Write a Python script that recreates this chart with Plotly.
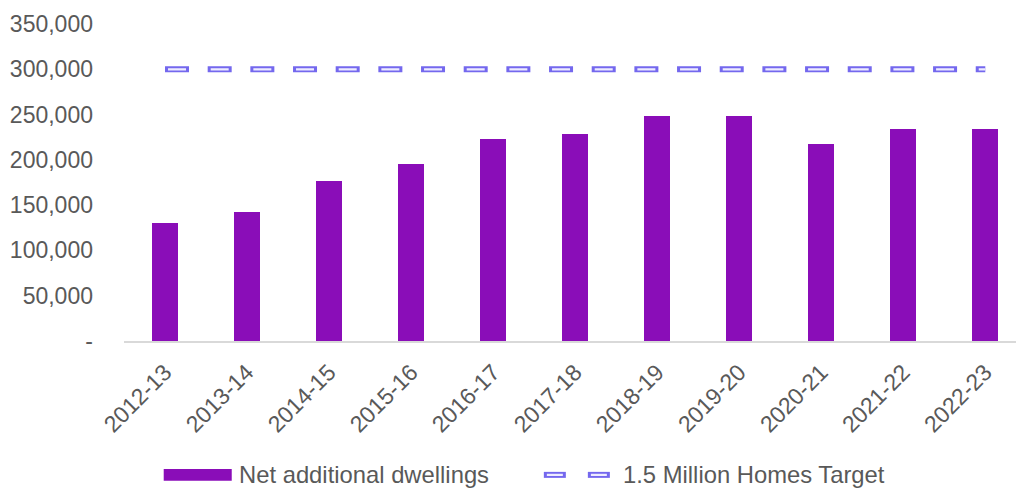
import plotly.graph_objects as go

# Financial years and net additional dwellings in England
years = ["2012-13", "2013-14", "2014-15", "2015-16", "2016-17", "2017-18",
         "2018-19", "2019-20", "2020-21", "2021-22", "2022-23"]
net_additional = [130500, 142600, 176500, 195600, 223200, 228300,
                  248200, 248900, 218000, 234200, 234200]
# Annual rate implied by the 1.5 million homes target
target_per_year = [300000] * len(years)

y_tickvals = [0, 50000, 100000, 150000, 200000, 250000, 300000, 350000]
y_ticktext = ["-", "50,000", "100,000", "150,000", "200,000", "250,000",
              "300,000", "350,000"]

bar_name = "Net additional dwellings"
line_name = "1.5 Million Homes Target"

W, H = 1016, 489
ML, MR, MT, MB = 124.3, 0, 23.7, 148
PW, PH = W - ML - MR, H - MT - MB
CAT_W = 82.0  # pixels per category

BAR_COLOR = "#8A0DB8"
LINE_COLOR = "#7468EE"
CORE_COLOR = "#EEECFF"
TEXT_COLOR = "#595959"
FONT = "Liberation Sans, Arial, sans-serif"


def px_x(px):
    return (px - ML) / PW


def px_y(py):
    return (H - MB - py) / PH


fig = go.Figure()

fig.add_trace(go.Bar(
    x=years, y=net_additional, name=bar_name,
    marker=dict(color=BAR_COLOR, line=dict(width=0)),
    width=26 / CAT_W, showlegend=False,
))

# Hollow dashed target line: coloured outer stroke with a thin light core
fig.add_trace(go.Scatter(
    x=years, y=target_per_year, name=line_name, mode="lines",
    line=dict(color=LINE_COLOR, width=6, dash="24px,18.67px"),
    showlegend=False, hoverinfo="skip",
))
fig.add_trace(go.Scatter(
    x=years, y=target_per_year, name=line_name, mode="lines",
    line=dict(color=CORE_COLOR, width=2.2, dash="0px,3px,18px,21.67px"),
    showlegend=False,
))

# Legend drawn below the axis
shapes = []
annotations = []
leg_y = 475
shapes.append(dict(type="rect", xref="paper", yref="paper",
                   x0=px_x(164), x1=px_x(232), y0=px_y(481), y1=px_y(469),
                   fillcolor=BAR_COLOR, line=dict(width=0)))
annotations.append(dict(xref="paper", yref="paper", x=px_x(237), y=px_y(leg_y),
                        text=bar_name, showarrow=False, xanchor="left",
                        yanchor="middle",
                        font=dict(family=FONT, size=23.8, color=TEXT_COLOR)))
for x0, x1 in [(544, 566), (588, 610)]:
    shapes.append(dict(type="line", xref="paper", yref="paper",
                       x0=px_x(x0), x1=px_x(x1), y0=px_y(leg_y), y1=px_y(leg_y),
                       line=dict(color=LINE_COLOR, width=6)))
    shapes.append(dict(type="line", xref="paper", yref="paper",
                       x0=px_x(x0 + 3), x1=px_x(x1 - 3), y0=px_y(leg_y), y1=px_y(leg_y),
                       line=dict(color=CORE_COLOR, width=2.2)))
annotations.append(dict(xref="paper", yref="paper", x=px_x(621), y=px_y(leg_y),
                        text=line_name, showarrow=False, xanchor="left",
                        yanchor="middle",
                        font=dict(family=FONT, size=23.8, color=TEXT_COLOR)))

fig.update_layout(
    template="none",
    width=W, height=H,
    margin=dict(l=ML, r=MR, t=MT, b=MB, autoexpand=False),
    paper_bgcolor="white", plot_bgcolor="white",
    font=dict(family=FONT, size=23, color=TEXT_COLOR),
    bargap=0, showlegend=False,
    shapes=shapes, annotations=annotations,
    xaxis=dict(
        type="category", range=[-0.5, PW / CAT_W - 0.5],
        showgrid=False, zeroline=False,
        showline=True, linecolor="#D9D9D9", linewidth=1.5,
        ticks="", tickangle=-45, ticklabelstandoff=7,
        tickfont=dict(family=FONT, size=23, color=TEXT_COLOR),
    ),
    yaxis=dict(
        range=[0, 350000], tickvals=y_tickvals, ticktext=y_ticktext,
        showgrid=False, zeroline=False, showline=False, ticks="",
        ticklabelstandoff=30,
        tickfont=dict(family=FONT, size=23, color=TEXT_COLOR),
    ),
)

fig.write_html("out.html")
